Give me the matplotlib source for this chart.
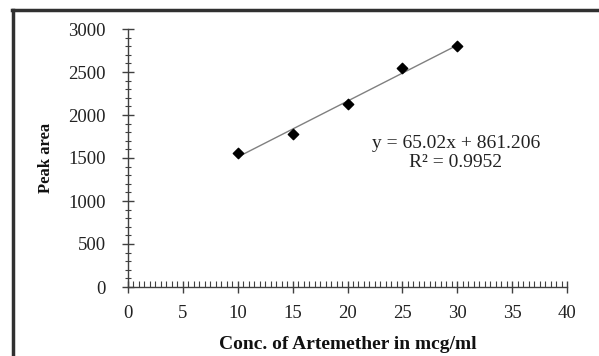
import matplotlib
matplotlib.use("Agg")
import matplotlib.pyplot as plt
from matplotlib.lines import Line2D
from matplotlib.ticker import MultipleLocator
import numpy as np

conc = [10, 15, 20, 25, 30]
peak_area = [1557, 1780, 2126, 2543, 2800]
slope = 65.02
intercept = 861.206
r2 = 0.9952
xticks = [0, 5, 10, 15, 20, 25, 30, 35, 40]
yticks = [0, 500, 1000, 1500, 2000, 2500, 3000]

plt.rcParams['font.family'] = ['Liberation Serif', 'DejaVu Serif']

fig = plt.figure(figsize=(5.99, 3.56), dpi=100)
ax = fig.add_axes([128/599, 1-287/356, (567-128)/599, (287-29)/356])

xl = np.array([conc[0], conc[-1]])
ax.plot(xl, slope*xl + intercept, color='#808080', lw=1.0, zorder=2)
ax.scatter(conc, peak_area, marker='D', s=28, color='black', zorder=3)

ax.set_xlim(0, 40)
ax.set_ylim(0, 3000)
ax.set_xticks(xticks)
ax.set_yticks(yticks)
ax.xaxis.set_minor_locator(MultipleLocator(0.5))
ax.yaxis.set_minor_locator(MultipleLocator(100))
for s in ['top', 'right']:
    ax.spines[s].set_visible(False)
for s in ['left', 'bottom']:
    ax.spines[s].set_color('#404040')
    ax.spines[s].set_linewidth(1.0)
ax.tick_params(axis='both', which='major', direction='inout', length=8, width=1.0, color='#404040', labelsize=13.5, labelcolor='#222222')
ax.tick_params(axis='x', which='minor', direction='in', length=4, width=0.8, color='#404040')
ax.tick_params(axis='y', which='minor', direction='inout', length=5, width=0.8, color='#404040')
ax.tick_params(axis='x', which='major', pad=9)
ax.tick_params(axis='y', which='major', pad=12)

ax.set_xlabel('Conc. of Artemether in mcg/ml', fontsize=14, fontweight='bold', labelpad=10, color='#111111')
ax.set_ylabel('Peak area', fontsize=12, fontweight='bold', labelpad=10, color='#111111')

fig.text(456/599, 1-143/356, f'y = {slope}x + {intercept}', fontsize=14, ha='center', va='center', color='#222222')
fig.text(456/599, 1-163/356, f'R² = {r2}', fontsize=14, ha='center', va='center', color='#222222')

fig.add_artist(Line2D([13/599, 13/599], [0, 1-10/356], transform=fig.transFigure, color='#303030', lw=2.5))
fig.add_artist(Line2D([12/599, 1], [1-10/356, 1-10/356], transform=fig.transFigure, color='#303030', lw=2.5))

fig.savefig('out.png', dpi=100)
